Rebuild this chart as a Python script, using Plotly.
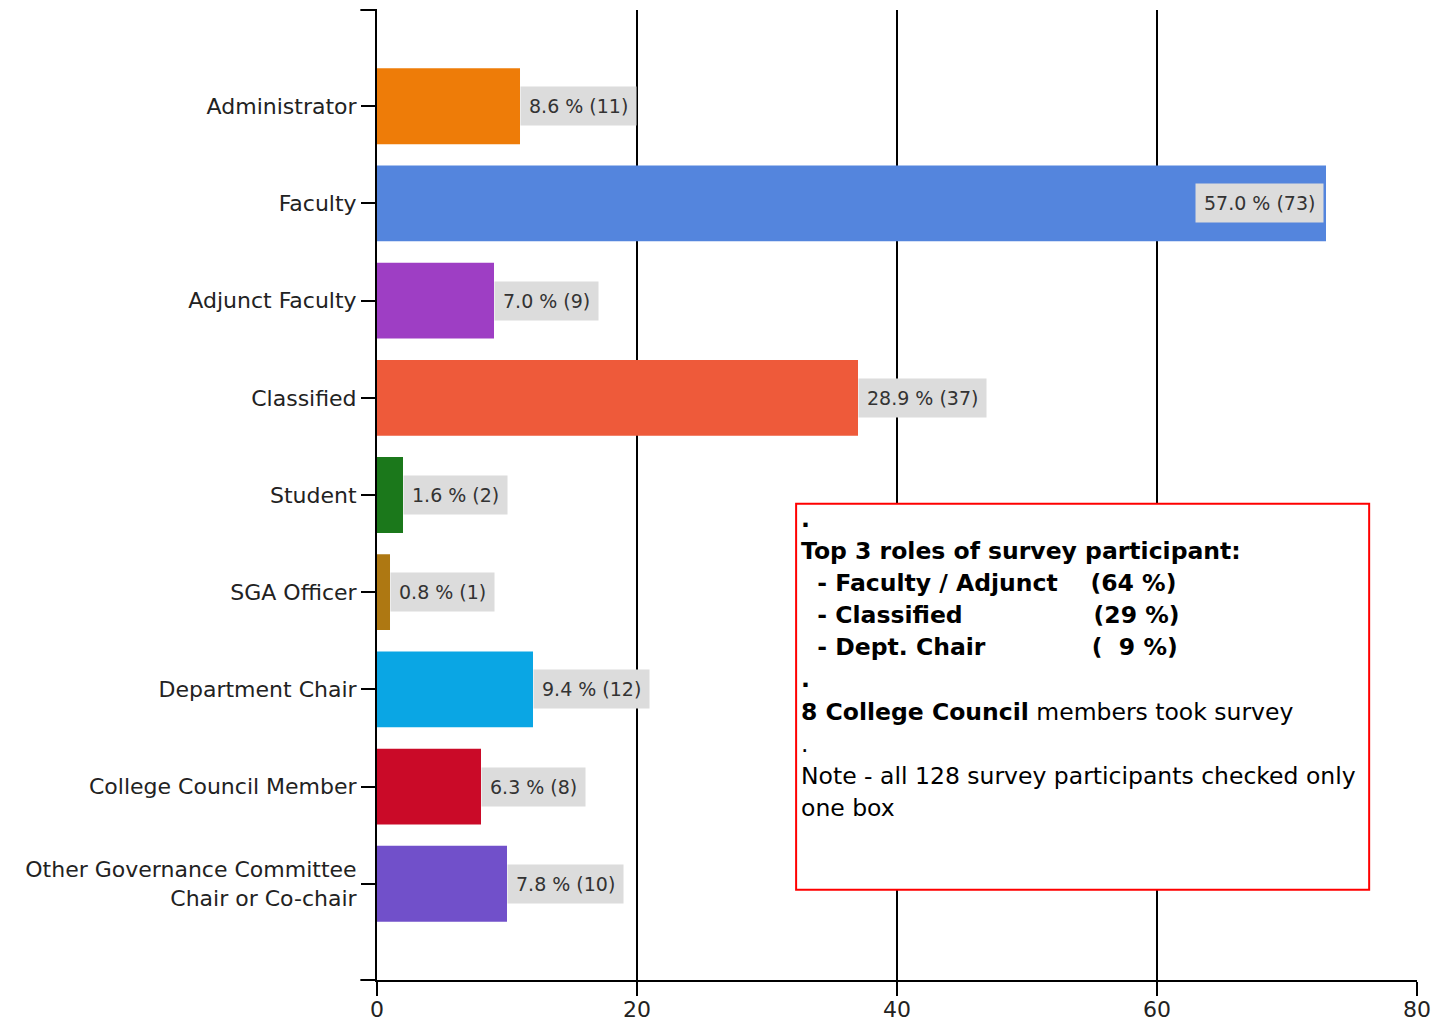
import plotly.graph_objects as go

# Data
roles = ["Administrator", "Faculty", "Adjunct Faculty", "Classified", "Student",
         "SGA Officer", "Department Chair", "College Council Member",
         "Other Governance Committee<br>Chair or Co-chair"]
counts = [11, 73, 9, 37, 2, 1, 12, 8, 10]
percents = [8.6, 57.0, 7.0, 28.9, 1.6, 0.8, 9.4, 6.3, 7.8]
bar_colors = ["#EE7C08", "#5485DD", "#9E3EC4", "#EE5A3A", "#1B781B",
              "#AE7812", "#0AA6E4", "#CA0A28", "#7150CA"]
x_ticks = [0, 20, 40, 60, 80]

# info box lines
NB = "\u00a0"
note_lines = [
    "<b>.</b>",
    "<b>Top 3 roles of survey participant:</b>",
    f"<b>{NB*2}- Faculty / Adjunct {NB*3}(64 %)</b>",
    f"<b>{NB*2}- Classified {NB*15}(29 %)</b>",
    f"<b>{NB*2}- Dept. Chair {NB*12}({NB*2}9 %)</b>",
    "<b>.</b>",
    "<b>8 College Council</b> members took survey",
    ".",
    "Note - all 128 survey participants checked only",
    "one box",
]

FONT = "DejaVu Sans"

fig = go.Figure()
fig.add_trace(go.Bar(
    x=counts, y=roles, orientation="h", width=0.78,
    marker=dict(color=bar_colors, line=dict(width=0)),
    hoverinfo="skip",
))

# value labels with grey background
for role, c, p in zip(roles, counts, percents):
    inside = c > 60
    fig.add_annotation(
        x=c, y=role, xref="x", yref="y",
        text=f"{p:.1f} % ({c})",
        showarrow=False,
        xanchor="right" if inside else "left",
        xshift=-2 if inside else 0,
        bgcolor="#DCDCDC", borderpad=8,
        font=dict(family=FONT, size=19, color="#333333"),
    )

# info box
fig.add_shape(type="rect", xref="paper", yref="paper",
              x0=0.403, x1=0.954, y0=0.093, y1=0.491,
              line=dict(color="#FF0000", width=2), fillcolor="white", layer="above")
line_top, line_step = 0.4748, 0.0330
for i, txt in enumerate(note_lines):
    fig.add_annotation(
        x=0.4055, y=line_top - i * line_step, xref="paper", yref="paper",
        xanchor="left", yanchor="middle", align="left", showarrow=False,
        text=txt,
        font=dict(family=FONT, size=23.5, color="black"),
    )

# small tick at the top of the y axis
fig.add_shape(type="line", xref="paper", yref="paper",
              x0=-0.016, x1=0, y0=1, y1=1, line=dict(color="black", width=2))
# extension of the bottom axis line
fig.add_shape(type="line", xref="paper", yref="paper",
              x0=-0.016, x1=0, y0=0, y1=0, line=dict(color="black", width=2))

# page body has an 8px margin, so the figure is a bit smaller and shifted
fig.update_layout(
    width=1435, height=1014,
    margin=dict(l=369, r=26, t=2, b=42),
    plot_bgcolor="white", paper_bgcolor="white",
    showlegend=False,
    font=dict(family=FONT, size=22, color="#222222"),
    xaxis=dict(range=[0, 80], tickvals=x_ticks, showgrid=True,
               gridcolor="black", gridwidth=2, zeroline=False,
               showline=True, linecolor="black", linewidth=2,
               ticks="outside", ticklen=14, tickwidth=2, tickcolor="black",
               automargin=False, ticklabelstandoff=-5,
               tickfont=dict(family=FONT, size=22, color="#222222")),
    yaxis=dict(categoryorder="array", categoryarray=roles,
               autorange=False, range=[8.99, -0.99],
               showline=True, linecolor="black", linewidth=2,
               ticks="outside", ticklen=14, tickwidth=2, tickcolor="black",
               showgrid=False, zeroline=False, automargin=False,
               tickfont=dict(family=FONT, size=22, color="#222222")),
)

fig.write_html("out.html")
